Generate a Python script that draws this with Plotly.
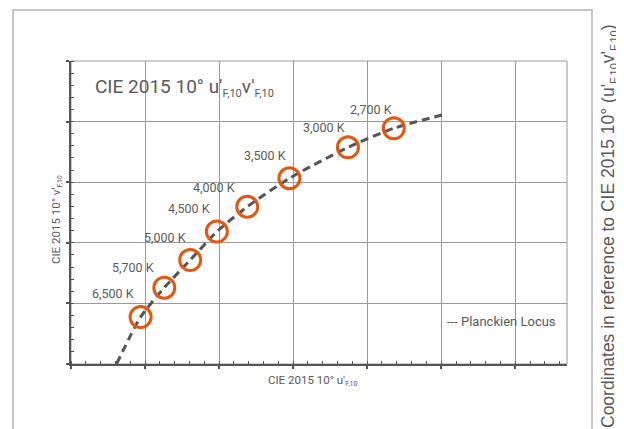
import plotly.graph_objects as go

# ---- data ----
locus_u = [0.1923, 0.1988, 0.2052, 0.2122, 0.2194, 0.2276, 0.2390, 0.2548, 0.2672, 0.2802]
locus_v = [0.4500, 0.4655, 0.4752, 0.4843, 0.4937, 0.5019, 0.5113, 0.5215, 0.5278, 0.5322]

cct_labels = ["6,500 K", "5,700 K", "5,000 K", "4,500 K", "4,000 K", "3,500 K", "3,000 K", "2,700 K"]
cct_u = [0.1988, 0.2052, 0.2122, 0.2194, 0.2276, 0.2390, 0.2548, 0.2672]
cct_v = [0.4655, 0.4752, 0.4843, 0.4937, 0.5019, 0.5113, 0.5215, 0.5278]

# label offsets (pixels, style only)
label_dx = [-5, -8, -2, -5, -10, -1, -1, 0]
label_dy = [24, 20, 23, 23, 19, 23, 20, 19]

x_range = [0.18, 0.31397]
y_range = [0.45, 0.55]

# page has an 8px body margin; work in reference-picture pixels and shift
OFF = 8
W, H = 624 - OFF, 429 - OFF
L, R, T, B = 71 - OFF, 567 - OFF, 61 - OFF, 364 - OFF


def px(xp):
    return (xp - OFF - L) / (R - L)


def py(yp):
    return (B - (yp - OFF)) / (B - T)


FONT = "Roboto, Liberation Sans, sans-serif"
TXT = "#5a5a5a"
GRID = "#9a9a9a"
AXIS = "#555555"
ORANGE = "#E5560F"


def sub(t, size):
    return "<sub><span style='font-size:%dpx'>%s</span></sub>" % (size, t)


fig = go.Figure()

fig.add_trace(go.Scatter(
    x=locus_u, y=locus_v, mode="lines",
    line=dict(color="#555555", width=3, dash="8px,5px", shape="spline", smoothing=0.6),
    hoverinfo="skip", showlegend=False,
))

fig.add_trace(go.Scatter(
    x=cct_u, y=cct_v, mode="markers",
    marker=dict(symbol="circle-open", size=21, color=ORANGE, line=dict(width=3, color=ORANGE)),
    showlegend=False,
))

for lab, u, v, dx, dy in zip(cct_labels, cct_u, cct_v, label_dx, label_dy):
    fig.add_annotation(x=u, y=v, text=lab, showarrow=False, xanchor="right", yanchor="middle",
                       xshift=dx, yshift=dy, font=dict(family=FONT, size=12.5, color=TXT))

# title inside plot
fig.add_annotation(xref="paper", yref="paper", x=px(93), y=py(87),
                   text="CIE 2015 10° u'" + sub("F,10", 11) + "v'" + sub("F,10", 11),
                   showarrow=False, xanchor="left", yanchor="middle",
                   font=dict(family=FONT, size=19, color=TXT))

# axis titles
fig.add_annotation(xref="paper", yref="paper", x=px(313), y=py(381),
                   text="CIE 2015 10° u'" + sub("F,10", 7), showarrow=False,
                   xanchor="center", yanchor="middle",
                   font=dict(family=FONT, size=11.5, color=TXT))
fig.add_annotation(xref="paper", yref="paper", x=px(56), y=py(220),
                   text="CIE 2015 10° v'" + sub("F,10", 7), showarrow=False, textangle=-90,
                   xanchor="center", yanchor="middle",
                   font=dict(family=FONT, size=11.5, color=TXT))

# legend-like text
fig.add_annotation(xref="paper", yref="paper", x=px(445), y=py(321),
                   text="--- Planckien Locus", showarrow=False,
                   xanchor="left", yanchor="middle",
                   font=dict(family=FONT, size=13, color=TXT))

# right side caption
fig.add_annotation(xref="paper", yref="paper", x=px(609), y=py(22),
                   text="Coordinates in reference to CIE 2015 10° (u'" + sub("F,10", 11)
                   + "v'" + sub("F,10", 11) + ")",
                   showarrow=False, textangle=-90, xanchor="center", yanchor="top",
                   font=dict(family="Liberation Sans, Arial, sans-serif", size=17.5, color="#5a5a5a"))

# outer frame
fig.add_shape(type="rect", xref="paper", yref="paper",
              x0=px(13), x1=px(592), y0=py(460), y1=py(10),
              line=dict(color="#b5b5b5", width=1.5), layer="below")
# plot border (top/right)
fig.add_shape(type="rect", xref="paper", yref="paper", x0=0, x1=1, y0=0, y1=1,
              line=dict(color=GRID, width=1), layer="below")

fig.update_xaxes(range=x_range, tick0=0.18, dtick=0.02, showticklabels=False,
                 showgrid=True, gridcolor=GRID, gridwidth=1, zeroline=False,
                 showline=True, linecolor=AXIS, linewidth=2,
                 ticks="outside", ticklen=3, tickcolor=AXIS, tickwidth=1.5,
                 minor=dict(dtick=0.004, tick0=0.18, ticks="inside", ticklen=3,
                            tickcolor=AXIS, tickwidth=1, showgrid=False))
fig.update_yaxes(range=y_range, tick0=0.45, dtick=0.02, showticklabels=False,
                 showgrid=True, gridcolor=GRID, gridwidth=1, zeroline=False,
                 showline=True, linecolor=AXIS, linewidth=2,
                 ticks="outside", ticklen=3, tickcolor=AXIS, tickwidth=1.5,
                 minor=dict(dtick=0.004, tick0=0.45, ticks="inside", ticklen=3,
                            tickcolor=AXIS, tickwidth=1, showgrid=False))

fig.update_layout(width=W, height=H, margin=dict(l=L, r=W - R, t=T, b=H - B, pad=0),
                  paper_bgcolor="white", plot_bgcolor="white", showlegend=False)

fig.write_html("out.html")
